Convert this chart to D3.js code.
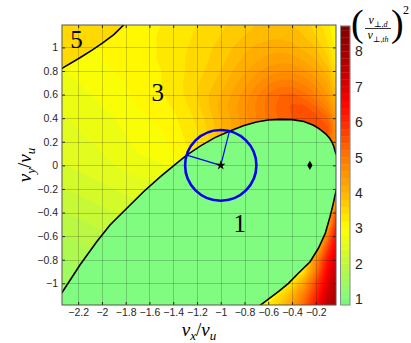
<!DOCTYPE html>
<html>
<head>
<meta charset="utf-8">
<script src="https://cdn.jsdelivr.net/npm/d3@7"></script>
<style>
  body { margin: 0; background: #fff; }
  svg { display: block; }
  .axis text { font-family: "Liberation Sans", Arial, sans-serif; font-size: 10.5px; fill: #262626; }
  .axis line { stroke: #262626; }
  .axis path { display: none; }
  .cbar text { font-family: "Liberation Sans", Arial, sans-serif; font-size: 14px; fill: #262626; }
  .tex { font-family: "Liberation Serif", "DejaVu Serif", serif; fill: #000; }
</style>
</head>
<body>
<div id="chart"></div>
<script>

// sample grid of (v_perp,d / v_perp,th)^2
var vxGrid = [-2.4, -2.3, -2.2, -2.1, -2.0, -1.9, -1.8, -1.7, -1.6, -1.5, -1.4, -1.3, -1.2,
              -1.1, -1.0, -0.9, -0.8, -0.7, -0.6, -0.5, -0.4, -0.3, -0.2, -0.1, 0.0];
var vyGrid = [1.2, 1.1, 1.0, 0.9, 0.8, 0.7, 0.6, 0.5, 0.4, 0.3, 0.2, 0.1, 0.0,
              -0.1, -0.2, -0.3, -0.4, -0.5, -0.6, -0.7, -0.8, -0.9, -1.0, -1.1, -1.2];
var ratioRows = [
  [2.9, 2.95, 2.95, 3.0, 3.0, 3.05, 3.07, 3.1, 3.15, 3.2, 3.25, 3.32, 3.4, 3.48, 3.55, 3.65, 3.75, 3.8, 3.85, 3.85, 3.8, 3.7, 3.5, 3.25, 2.85],
  [2.9, 2.9, 2.95, 2.95, 3.0, 3.03, 3.07, 3.12, 3.17, 3.22, 3.28, 3.35, 3.43, 3.52, 3.6, 3.7, 3.8, 3.9, 3.95, 3.95, 3.9, 3.8, 3.6, 3.35, 2.9],
  [2.85, 2.9, 2.9, 2.95, 3.0, 3.03, 3.07, 3.12, 3.17, 3.22, 3.3, 3.38, 3.47, 3.57, 3.67, 3.8, 3.95, 4.04, 4.08, 4.12, 4.08, 3.95, 3.8, 3.45, 3.0],
  [2.8, 2.85, 2.9, 2.95, 3.0, 3.02, 3.07, 3.12, 3.17, 3.22, 3.3, 3.4, 3.5, 3.6, 3.72, 3.9, 4.04, 4.16, 4.28, 4.32, 4.28, 4.16, 4.0, 3.65, 3.1],
  [2.75, 2.8, 2.85, 2.9, 2.95, 3.0, 3.05, 3.1, 3.15, 3.2, 3.3, 3.4, 3.52, 3.65, 3.8, 4.0, 4.16, 4.36, 4.48, 4.56, 4.56, 4.44, 4.24, 3.9, 3.2],
  [2.75, 2.75, 2.8, 2.85, 2.9, 2.95, 3.0, 3.08, 3.15, 3.2, 3.3, 3.42, 3.58, 3.72, 3.9, 4.12, 4.32, 4.56, 4.76, 4.88, 4.88, 4.76, 4.52, 4.16, 3.4],
  [2.7, 2.7, 2.75, 2.8, 2.85, 2.9, 2.97, 3.05, 3.12, 3.18, 3.28, 3.42, 3.6, 3.8, 4.0, 4.24, 4.48, 4.76, 5.04, 5.2, 5.24, 5.08, 4.8, 4.4, 3.6],
  [2.65, 2.65, 2.7, 2.75, 2.8, 2.85, 2.92, 3.0, 3.07, 3.12, 3.22, 3.35, 3.55, 3.8, 4.08, 4.32, 4.56, 4.84, 5.08, 5.28, 5.44, 5.44, 5.2, 4.72, 3.9],
  [2.6, 2.6, 2.65, 2.7, 2.75, 2.8, 2.87, 2.95, 3.0, 3.05, 3.15, 3.3, 3.45, 3.7, 4.0, 4.24, 4.52, 4.8, 5.04, 5.24, 5.4, 5.55, 5.5, 5.2, 4.08],
  [2.55, 2.55, 2.6, 2.65, 2.7, 2.75, 2.82, 2.9, 2.95, 3.0, 3.1, 3.25, 3.4, 3.65, 3.95, 4.24, 4.48, 4.76, 5.0, 5.2, 5.36, 5.6, 5.7, 5.5, 4.16],
  [2.5, 2.5, 2.55, 2.6, 2.65, 2.7, 2.78, 2.85, 2.9, 2.95, 3.05, 3.2, 3.35, 3.55, 3.85, 4.12, 4.4, 4.68, 4.92, 5.16, 5.32, 5.44, 5.48, 5.28, 4.24],
  [2.45, 2.45, 2.5, 2.55, 2.6, 2.65, 2.72, 2.8, 2.85, 2.9, 3.0, 3.1, 3.25, 3.45, 1, 1, 1, 1, 1, 1, 1, 1, 1, 4.8, 4.16],
  [2.4, 2.4, 2.45, 2.5, 2.55, 2.6, 2.65, 2.7, 2.72, 2.78, 2.85, 2.95, 1, 1, 1, 1, 1, 1, 1, 1, 1, 1, 1, 1, 1],
  [2.3, 2.3, 2.35, 2.4, 2.45, 2.5, 2.55, 2.6, 2.6, 2.65, 2.7, 1, 1, 1, 1, 1, 1, 1, 1, 1, 1, 1, 1, 1, 1],
  [2.2, 2.2, 2.25, 2.3, 2.35, 2.4, 2.45, 2.5, 2.5, 2.55, 1, 1, 1, 1, 1, 1, 1, 1, 1, 1, 1, 1, 1, 1, 4.0],
  [2.1, 2.1, 2.15, 2.2, 2.25, 2.3, 2.35, 2.4, 2.45, 1, 1, 1, 1, 1, 1, 1, 1, 1, 1, 1, 1, 1, 1, 3.0, 5.0],
  [2.0, 2.0, 2.05, 2.1, 2.15, 2.2, 2.25, 2.3, 1, 1, 1, 1, 1, 1, 1, 1, 1, 1, 1, 1, 1, 1, 2.5, 3.6, 6.3],
  [1.9, 1.9, 1.95, 2.0, 2.05, 2.1, 2.15, 1, 1, 1, 1, 1, 1, 1, 1, 1, 1, 1, 1, 1, 1, 1, 3.0, 4.2, 6.8],
  [1.8, 1.8, 1.85, 1.9, 1.95, 2.0, 1, 1, 1, 1, 1, 1, 1, 1, 1, 1, 1, 1, 1, 1, 1, 1, 3.4, 5.0, 7.0],
  [1.7, 1.7, 1.75, 1.8, 1.85, 1, 1, 1, 1, 1, 1, 1, 1, 1, 1, 1, 1, 1, 1, 1, 1, 2.8, 3.8, 5.7, 7.2],
  [1.6, 1.6, 1.65, 1.7, 1, 1, 1, 1, 1, 1, 1, 1, 1, 1, 1, 1, 1, 1, 1, 1, 1, 3.3, 4.6, 6.3, 7.4],
  [1.5, 1.5, 1.55, 1.6, 1, 1, 1, 1, 1, 1, 1, 1, 1, 1, 1, 1, 1, 1, 1, 1, 2.8, 3.4, 5.0, 6.7, 7.6],
  [1.45, 1.45, 1.5, 1, 1, 1, 1, 1, 1, 1, 1, 1, 1, 1, 1, 1, 1, 1, 1, 2.8, 3.4, 4.3, 5.6, 7.0, 7.8],
  [1.4, 1.45, 1, 1, 1, 1, 1, 1, 1, 1, 1, 1, 1, 1, 1, 1, 1, 1, 2.8, 3.4, 4.0, 4.9, 6.0, 7.3, 8.0],
  [1.35, 1.4, 1, 1, 1, 1, 1, 1, 1, 1, 1, 1, 1, 1, 1, 1, 1, 2.9, 3.3, 3.8, 4.4, 5.3, 6.4, 7.5, 8.2]
];

// region borders (black lines), in units of v_u
var borderMain = [[-2.36, -1.11], [-2.33, -1.07], [-2.185, -0.845], [-2.044, -0.647], [-1.932, -0.506],
  [-1.82, -0.393], [-1.65, -0.224], [-1.51, -0.097], [-1.357, 0.03], [-1.286, 0.087], [-1.17, 0.165],
  [-1.05, 0.235], [-0.927, 0.29], [-0.81, 0.335], [-0.7, 0.368], [-0.6, 0.385], [-0.5, 0.39],
  [-0.4, 0.388], [-0.3, 0.372], [-0.22, 0.34], [-0.17, 0.31], [-0.12, 0.27], [-0.085, 0.232],
  [-0.065, 0.2], [-0.048, 0.16], [-0.037, 0.12], [-0.028, 0.09]];
var borderLower = [[-0.028, -0.21], [-0.037, -0.25], [-0.052, -0.32], [-0.08, -0.435], [-0.12, -0.576],
  [-0.178, -0.703], [-0.248, -0.817], [-0.347, -0.915], [-0.43, -1.0], [-0.515, -1.07],
  [-0.627, -1.156], [-0.7, -1.21]];
var border5 = [[-2.36, 0.808], [-2.336, 0.822], [-2.185, 0.912], [-2.083, 0.977], [-1.99, 1.04],
  [-1.9, 1.108], [-1.817, 1.19], [-1.8, 1.21]];
var region1Value = 1.0;
var region5Value = 3.5;

var regionLabels = [{text: "5", vx: -2.215, vy: 0.995}, {text: "3", vx: -1.53, vy: 0.545}, {text: "1", vx: -0.84, vy: -0.563}];

// disc of radius 0.3 around (-1, 0) and its two crossings with the border
var circleCenter = [-1.0, 0.0];
var circleRadius = 0.3;
var circleHits = [[-1.286, 0.087], [-0.927, 0.29]];
var diamondPoint = [-0.25, 0.0];

var xTicks = [-2.2, -2, -1.8, -1.6, -1.4, -1.2, -1, -0.8, -0.6, -0.4, -0.2];
var yTicks = [-1, -0.8, -0.6, -0.4, -0.2, 0, 0.2, 0.4, 0.6, 0.8, 1];
var cbarTicks = [1, 2, 3, 4, 5, 6, 7, 8];
var cbarRange = [0.83, 8.72];

var colorStops = [0.8, 1.0, 2.0, 3.0, 4.0, 5.0, 6.0, 6.6, 7.0, 8.0, 8.8];
var colorList = ["#78f278", "#80fc80", "#c2f83c", "#ffff00", "#ffb400", "#ff7800", "#ff2800", "#ff0000", "#dc0000", "#a00000", "#800000"];

var width = 411, height = 343;
var svg = d3.select("#chart").append("svg").attr("width", width).attr("height", height);

var x = d3.scaleLinear().domain([-2.336, -0.03]).range([62, 336]);
var y = d3.scaleLinear().domain([-1.184, 1.19]).range([305, 25]);
var color = d3.scaleLinear().domain(colorStops).range(colorList).clamp(true);

// filled levels, like contourf
var step = 0.2;
var levels = d3.range(4, 45).map(function(k) { return k * step; });

svg.append("clipPath").attr("id", "plotclip")
  .append("rect").attr("x", 62).attr("y", 25).attr("width", 274).attr("height", 280);

var plot = svg.append("g").attr("clip-path", "url(#plotclip)");

var nx = vxGrid.length, ny = vyGrid.length;
var flat = [].concat.apply([], ratioRows);
var dvx = vxGrid[1] - vxGrid[0], dvy = vyGrid[1] - vyGrid[0];
var gridProj = d3.geoTransform({
  point: function(u, v) {
    this.stream.point(x(vxGrid[0] + (u - 0.5) * dvx), y(vyGrid[0] + (v - 0.5) * dvy));
  }
});
var bands = d3.contours().size([nx, ny]).thresholds(levels)(flat);

plot.selectAll("path.band")
  .data(bands)
  .enter().append("path")
  .attr("class", "band")
  .attr("d", d3.geoPath(gridProj))
  .attr("fill", function(d) { return color(d.value + step / 2); });

var line = d3.line()
  .x(function(d) { return x(d[0]); })
  .y(function(d) { return y(d[1]); });

// region 1: flat
var xr = x.domain()[1] + 0.05, xl = x.domain()[0] - 0.05, yb = y.domain()[0] - 0.05, yt = y.domain()[1] + 0.05;
var region1 = borderMain
  .concat([[xr, borderMain[borderMain.length - 1][1]], [xr, borderLower[0][1]]])
  .concat(borderLower)
  .concat([[borderLower[borderLower.length - 1][0], yb], [xl, yb], [xl, borderMain[0][1]]]);
plot.append("path")
  .attr("d", line(region1) + "Z")
  .attr("fill", color(region1Value));

// region 5: flat
var region5 = border5.concat([[border5[border5.length - 1][0], yt], [xl, yt], [xl, border5[0][1]]]);
plot.append("path")
  .attr("d", line(region5) + "Z")
  .attr("fill", color(region5Value));

// grid
var gridG = plot.append("g").attr("stroke", "#000").attr("stroke-opacity", 0.19).attr("stroke-width", 1);
gridG.selectAll("line.gx").data(xTicks).enter().append("line")
  .attr("x1", function(d) { return Math.round(x(d)) + 0.5; })
  .attr("x2", function(d) { return Math.round(x(d)) + 0.5; })
  .attr("y1", 25).attr("y2", 305);
gridG.selectAll("line.gy").data(yTicks).enter().append("line")
  .attr("y1", function(d) { return Math.round(y(d)) + 0.5; })
  .attr("y2", function(d) { return Math.round(y(d)) + 0.5; })
  .attr("x1", 62).attr("x2", 336);

// borders
[borderMain, borderLower, border5].forEach(function(b) {
  plot.append("path")
    .attr("d", line(b))
    .attr("fill", "none")
    .attr("stroke", "#000")
    .attr("stroke-width", 1.6);
});

// circle and radii
var rx = x(circleCenter[0] + circleRadius) - x(circleCenter[0]);
var ry = y(circleCenter[1]) - y(circleCenter[1] + circleRadius);
circleHits.forEach(function(p) {
  plot.append("line")
    .attr("x1", x(circleCenter[0])).attr("y1", y(circleCenter[1]))
    .attr("x2", x(p[0])).attr("y2", y(p[1]))
    .attr("stroke", "#0000ee").attr("stroke-width", 1.2);
});
plot.append("ellipse")
  .attr("cx", x(circleCenter[0])).attr("cy", y(circleCenter[1]))
  .attr("rx", rx).attr("ry", ry)
  .attr("fill", "none").attr("stroke", "#0000ee").attr("stroke-width", 2.6);

plot.append("path")
  .attr("transform", "translate(" + x(circleCenter[0]) + "," + y(circleCenter[1]) + ")")
  .attr("d", d3.symbol(d3.symbolStar).size(28)())
  .attr("fill", "#000");
plot.append("path")
  .attr("transform", "translate(" + x(diamondPoint[0]) + "," + y(diamondPoint[1]) + ")")
  .attr("d", d3.symbol(d3.symbolDiamond).size(24)())
  .attr("fill", "#000");

plot.selectAll("text.region").data(regionLabels).enter().append("text")
  .attr("class", "tex")
  .attr("x", function(d) { return x(d.vx); })
  .attr("y", function(d) { return y(d.vy); })
  .attr("text-anchor", "middle")
  .attr("font-size", 25)
  .text(function(d) { return d.text; });

// axes, ticks inward
var fmt = d3.format("");
svg.append("g").attr("class", "axis").attr("transform", "translate(0,305)")
  .call(d3.axisBottom(x).tickValues(xTicks).tickFormat(fmt).tickSize(-3).tickPadding(4));
svg.append("g").attr("class", "axis").attr("transform", "translate(0,25)")
  .call(d3.axisTop(x).tickValues(xTicks).tickFormat("").tickSize(-3));
svg.append("g").attr("class", "axis").attr("transform", "translate(62,0)")
  .call(d3.axisLeft(y).tickValues(yTicks).tickFormat(fmt).tickSize(-3).tickPadding(4));
svg.append("g").attr("class", "axis").attr("transform", "translate(336,0)")
  .call(d3.axisRight(y).tickValues(yTicks).tickFormat("").tickSize(-3));

svg.append("rect")
  .attr("x", 62).attr("y", 25).attr("width", 274).attr("height", 280)
  .attr("fill", "none").attr("stroke", "#555").attr("stroke-width", 1);

// axis titles
var xt = svg.append("text").attr("class", "tex").attr("x", 199).attr("y", 336)
  .attr("text-anchor", "middle").attr("font-size", 19).attr("font-style", "italic");
xt.append("tspan").text("v");
xt.append("tspan").attr("font-size", 13).attr("dy", 4).text("x");
xt.append("tspan").attr("dy", -4).attr("font-style", "normal").text("/");
xt.append("tspan").text("v");
xt.append("tspan").attr("font-size", 13).attr("dy", 4).text("u");

var yt2 = svg.append("text").attr("class", "tex")
  .attr("transform", "translate(31,165) rotate(-90)")
  .attr("text-anchor", "middle").attr("font-size", 19).attr("font-style", "italic");
yt2.append("tspan").text("v");
yt2.append("tspan").attr("font-size", 13).attr("dy", 4).text("y");
yt2.append("tspan").attr("dy", -4).attr("font-style", "normal").text("/");
yt2.append("tspan").text("v");
yt2.append("tspan").attr("font-size", 13).attr("dy", 4).text("u");

// colorbar
var cb = svg.append("g").attr("class", "cbar");
var cy = d3.scaleLinear().domain(cbarRange).range([305, 26]);
var cbLevels = levels.filter(function(t) { return t + step > cbarRange[0] && t < cbarRange[1]; });
cb.selectAll("rect.cb").data(cbLevels).enter().append("rect")
  .attr("x", 340.5).attr("width", 9.5)
  .attr("y", function(t) { return cy(Math.min(t + step, cbarRange[1])); })
  .attr("height", function(t) { return cy(Math.max(t, cbarRange[0])) - cy(Math.min(t + step, cbarRange[1])); })
  .attr("fill", function(t) { return color(t + step / 2); })
  .attr("stroke", function(t) { return color(t + step / 2); })
  .attr("stroke-width", 0.3);
cb.append("rect").attr("x", 340.5).attr("y", 26).attr("width", 9.5).attr("height", 279)
  .attr("fill", "none").attr("stroke", "#8c8c8c").attr("stroke-width", 1);
cb.append("g").attr("class", "axis cbar").attr("transform", "translate(350,0)")
  .call(d3.axisRight(cy).tickValues(cbarTicks).tickFormat(fmt).tickSize(0).tickPadding(5));

// colorbar title (v_perp,d / v_perp,th)^2
var tt = svg.append("g").attr("class", "tex");
tt.append("text").attr("x", 351).attr("y", 36).attr("font-size", 38).attr("font-weight", 300).text("(");
tt.append("text").attr("x", 391).attr("y", 36).attr("font-size", 38).attr("font-weight", 300).text(")");
var num = tt.append("text").attr("x", 378).attr("y", 24).attr("text-anchor", "middle").attr("font-size", 12);
num.append("tspan").attr("font-style", "italic").text("v");
num.append("tspan").attr("font-size", 8).attr("dy", 2.5).text("⊥,");
num.append("tspan").attr("font-size", 8).attr("font-style", "italic").text("d");
tt.append("line").attr("x1", 365).attr("x2", 391).attr("y1", 28.5).attr("y2", 28.5)
  .attr("stroke", "#000").attr("stroke-width", 0.8);
var den = tt.append("text").attr("x", 378).attr("y", 39).attr("text-anchor", "middle").attr("font-size", 12);
den.append("tspan").attr("font-style", "italic").text("v");
den.append("tspan").attr("font-size", 8).attr("dy", 2.5).text("⊥,");
den.append("tspan").attr("font-size", 8).attr("font-style", "italic").text("th");
tt.append("text").attr("x", 403).attr("y", 14).attr("font-size", 12).text("2");

</script>
</body>
</html>
